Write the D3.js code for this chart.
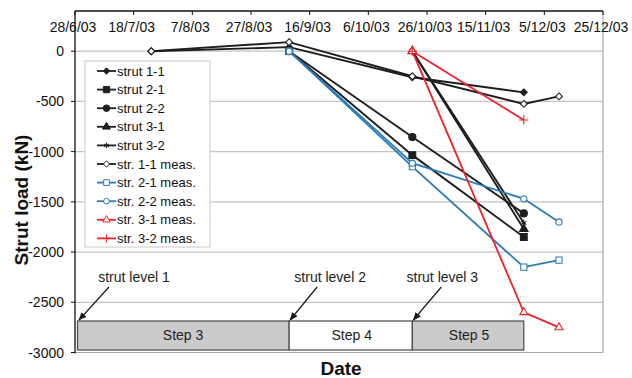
<!DOCTYPE html>
<html>
<head>
<meta charset="utf-8">
<script src="https://cdn.jsdelivr.net/npm/d3@7"></script>
<style>
  html, body { margin: 0; padding: 0; background: #fff; }
  svg { display: block; font-family: "Liberation Sans", Arial, sans-serif; }
</style>
</head>
<body>
<svg id="chart" width="632" height="378"></svg>
<script>
// Tick labels of the date axis (every 20 days)
const dateTicks = ["28/6/03", "18/7/03", "7/8/03", "27/8/03", "16/9/03", "6/10/03", "26/10/03", "15/11/03", "5/12/03", "25/12/03"];
const loadTicks = [0, -500, -1000, -1500, -2000, -2500, -3000];

// Strut loads (kN) — computed
const strut11Dates = ["24/7/03", "9/9/03", "21/10/03", "28/11/03"];
const strut11Vals  = [0, 40, -260, -410];
const strut21Dates = ["9/9/03", "21/10/03", "28/11/03"];
const strut21Vals  = [0, -1035, -1850];
const strut22Dates = ["9/9/03", "21/10/03", "28/11/03"];
const strut22Vals  = [0, -855, -1615];
const strut31Dates = ["21/10/03", "28/11/03"];
const strut31Vals  = [0, -1770];
const strut32Dates = ["21/10/03", "28/11/03"];
const strut32Vals  = [0, -1710];

// Strut loads (kN) — measured
const meas11Dates = ["24/7/03", "9/9/03", "21/10/03", "28/11/03", "10/12/03"];
const meas11Vals  = [0, 90, -250, -525, -450];
const meas21Dates = ["9/9/03", "21/10/03", "28/11/03", "10/12/03"];
const meas21Vals  = [0, -1150, -2150, -2080];
const meas22Dates = ["9/9/03", "21/10/03", "28/11/03", "10/12/03"];
const meas22Vals  = [0, -1115, -1470, -1700];
const meas31Dates = ["21/10/03", "28/11/03", "10/12/03"];
const meas31Vals  = [0, -2600, -2750];
const meas32Dates = ["21/10/03", "28/11/03"];
const meas32Vals  = [0, -685];

// Construction stages
const stepNames  = ["Step 3", "Step 4", "Step 5"];
const stepStarts = ["28/6/03", "9/9/03", "21/10/03"];
const stepEnds   = ["9/9/03", "21/10/03", "28/11/03"];
const levelNames = ["strut level 1", "strut level 2", "strut level 3"];
const levelDates = ["28/6/03", "9/9/03", "21/10/03"];

const parse = d3.timeParse("%d/%m/%y");
const fmt = d3.timeFormat("%-d/%-m/%y");

const BLACK = "#1e1e1e", BLUE = "#2b7bb5", RED = "#ee2028";
const series = [
  { name: "strut 1-1",       d: strut11Dates, v: strut11Vals, color: BLACK, sym: d3.symbolDiamond2, size: 30, fill: BLACK },
  { name: "strut 2-1",       d: strut21Dates, v: strut21Vals, color: BLACK, sym: d3.symbolSquare,   size: 46, fill: BLACK },
  { name: "strut 2-2",       d: strut22Dates, v: strut22Vals, color: BLACK, sym: d3.symbolCircle,   size: 40, fill: BLACK },
  { name: "strut 3-1",       d: strut31Dates, v: strut31Vals, color: BLACK, sym: d3.symbolTriangle, size: 32, fill: BLACK },
  { name: "strut 3-2",       d: strut32Dates, v: strut32Vals, color: BLACK, sym: d3.symbolAsterisk, size: 26, fill: "none" },
  { name: "str. 1-1 meas.",  d: meas11Dates,  v: meas11Vals,  color: BLACK, sym: d3.symbolDiamond2, size: 30, fill: "#fff" },
  { name: "str. 2-1 meas.",  d: meas21Dates,  v: meas21Vals,  color: BLUE,  sym: d3.symbolSquare,   size: 38, fill: "#fff" },
  { name: "str. 2-2 meas.",  d: meas22Dates,  v: meas22Vals,  color: BLUE,  sym: d3.symbolCircle,   size: 30, fill: "#fff" },
  { name: "str. 3-1 meas.",  d: meas31Dates,  v: meas31Vals,  color: RED,   sym: d3.symbolTriangle, size: 28, fill: "#fff" },
  { name: "str. 3-2 meas.",  d: meas32Dates,  v: meas32Vals,  color: RED,   sym: d3.symbolPlus,     size: 30, fill: "none" }
];

// Per-annotation placement: arrow start offset and label centre offset from the level date
const levelLayout = [
  { arrowDx: 31, labelDx: 56 },
  { arrowDx: 28, labelDx: 41 },
  { arrowDx: 29, labelDx: 30 }
];

const svg = d3.select("#chart");
const L = 75, R = 603, T = 11, B = 352.5;

const x = d3.scaleTime().domain([parse("28/6/03"), parse("25/12/03")]).range([L, R]);
const y = d3.scaleLinear().domain([-3000, 400]).range([B, T]);

// Gridlines
svg.append("g").selectAll("line").data(loadTicks).join("line")
  .attr("x1", L).attr("x2", R)
  .attr("y1", d => y(d)).attr("y2", d => y(d))
  .attr("stroke", "#c4c4c4").attr("stroke-width", 1.2);

// Plot frame: grey right/bottom edges
svg.append("line").attr("x1", R).attr("x2", R).attr("y1", T).attr("y2", B)
  .attr("stroke", "#a8a8a8").attr("stroke-width", 1.2);
svg.append("line").attr("x1", L).attr("x2", R).attr("y1", B).attr("y2", B)
  .attr("stroke", "#a8a8a8").attr("stroke-width", 1.2);

// Step boxes
const x0 = x.domain()[0];
const steps = stepNames.map((n, i) => ({ n, a: parse(stepStarts[i]), b: parse(stepEnds[i]) }));
const sg = svg.append("g");
sg.selectAll("rect").data(steps).join("rect")
  .attr("x", d => x(d.a) + (+d.a === +x0 ? 2.5 : 0))
  .attr("y", 321)
  .attr("width", d => x(d.b) - x(d.a) - (+d.a === +x0 ? 2.5 : 0))
  .attr("height", 29)
  .attr("fill", (d, i) => i === 1 ? "#fff" : "#cbcbcb")
  .attr("stroke", "#4a4a4a").attr("stroke-width", 1.2);
sg.selectAll("text").data(steps).join("text")
  .attr("x", d => (x(d.a) + x(d.b)) / 2 + 1)
  .attr("y", 340)
  .attr("text-anchor", "middle")
  .attr("font-size", 14).attr("fill", "#222")
  .text(d => d.n);

// Strut level annotations with arrows
svg.append("defs").append("marker")
  .attr("id", "arr").attr("viewBox", "0 0 10 10").attr("refX", 9).attr("refY", 5)
  .attr("markerWidth", 7).attr("markerHeight", 7).attr("orient", "auto")
  .append("path").attr("d", "M0,1 L10,5 L0,9 Z").attr("fill", "#1a1a1a");
levelNames.forEach((n, i) => {
  const t = parse(levelDates[i]);
  const px = x(t) + (+t === +x0 ? 3 : 0);
  svg.append("line")
    .attr("x1", px + levelLayout[i].arrowDx).attr("y1", 287)
    .attr("x2", px + 1).attr("y2", 320)
    .attr("stroke", "#1a1a1a").attr("stroke-width", 1.2)
    .attr("marker-end", "url(#arr)");
  svg.append("text")
    .attr("x", px + levelLayout[i].labelDx).attr("y", 282)
    .attr("text-anchor", "middle")
    .attr("font-size", 14).attr("fill", "#222")
    .text(n);
});

// Series lines and markers
const line = d3.line().x(p => x(p.t)).y(p => y(p.v));
series.forEach(s => {
  s.pts = s.d.map((dd, i) => ({ t: parse(dd), v: s.v[i] }));
});
const g = svg.append("g");
series.forEach(s => {
  g.append("path").datum(s.pts)
    .attr("d", line).attr("fill", "none")
    .attr("stroke", s.color).attr("stroke-width", s.color === BLACK ? 1.9 : 1.8);
});
series.forEach(s => {
  g.selectAll(null).data(s.pts).join("path")
    .attr("transform", p => `translate(${x(p.t)},${y(p.v)})`)
    .attr("d", d3.symbol().type(s.sym).size(s.size))
    .attr("fill", s.fill)
    .attr("stroke", s.color).attr("stroke-width", 1.1);
});

// Left axis (load)
svg.append("line").attr("x1", L).attr("x2", L).attr("y1", T).attr("y2", B + 1)
  .attr("stroke", "#111").attr("stroke-width", 1.3);
const ya = svg.append("g");
ya.selectAll("line").data(loadTicks).join("line")
  .attr("x1", L - 4).attr("x2", L).attr("y1", d => y(d)).attr("y2", d => y(d))
  .attr("stroke", "#111");
ya.selectAll("text").data(loadTicks).join("text")
  .attr("x", 64).attr("y", d => y(d) + 5)
  .attr("text-anchor", "end").attr("font-size", 14).attr("fill", "#111")
  .text(d => d);

// Top axis (date), labels sit inside the plot below the frame line
svg.append("line").attr("x1", L).attr("x2", R).attr("y1", T).attr("y2", T)
  .attr("stroke", "#111").attr("stroke-width", 1.3);
const tickDates = dateTicks.map(parse);
const xa = svg.append("g");
xa.selectAll("line").data(tickDates).join("line")
  .attr("x1", d => x(d)).attr("x2", d => x(d)).attr("y1", T).attr("y2", T + 4)
  .attr("stroke", "#111");
xa.selectAll("text").data(tickDates).join("text")
  .attr("x", d => x(d) - 2).attr("y", 32)
  .attr("text-anchor", "middle").attr("font-size", 14).attr("fill", "#111")
  .text(d => fmt(d));

// Axis titles
svg.append("text")
  .attr("transform", "translate(28,200) rotate(-90)")
  .attr("text-anchor", "middle").attr("font-size", 19).attr("font-weight", "bold")
  .attr("fill", "#111").text("Strut load (kN)");
svg.append("text")
  .attr("x", 341).attr("y", 375)
  .attr("text-anchor", "middle").attr("font-size", 19).attr("font-weight", "bold")
  .attr("fill", "#111").text("Date");

// Legend
const lg = svg.append("g").attr("transform", "translate(85,61)");
lg.append("rect").attr("width", 125).attr("height", 186)
  .attr("fill", "#fff").attr("stroke", "#c8c8c8").attr("stroke-width", 1);
series.forEach((s, i) => {
  const yy = 10 + i * 18.6;
  lg.append("line").attr("x1", 12).attr("x2", 31).attr("y1", yy).attr("y2", yy)
    .attr("stroke", s.color).attr("stroke-width", 1.8);
  lg.append("path").attr("transform", `translate(21.5,${yy})`)
    .attr("d", d3.symbol().type(s.sym).size(s.size * 0.85))
    .attr("fill", s.fill).attr("stroke", s.color).attr("stroke-width", 1);
  lg.append("text").attr("x", 32).attr("y", yy + 4.6)
    .attr("font-size", 13).attr("fill", "#111").text(s.name);
});
</script>
</body>
</html>
